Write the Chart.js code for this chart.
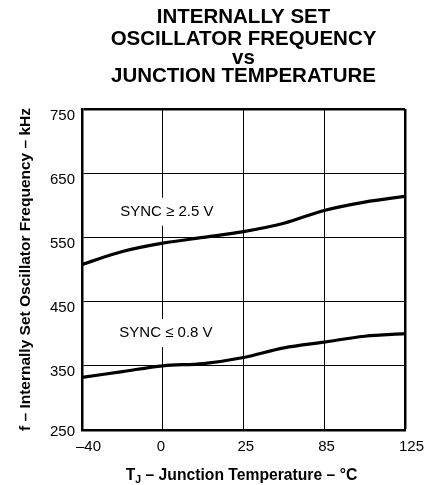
<!DOCTYPE html>
<html>
<head>
<meta charset="utf-8">
<script src="https://cdn.jsdelivr.net/npm/chart.js@4.4.0/dist/chart.umd.min.js"></script>
<style>
  html, body { margin: 0; padding: 0; background: #fff; }
  #wrap { width: 434px; height: 485px; }
</style>
</head>
<body>
<div id="wrap"><canvas id="freqChart"></canvas></div>
<script>
// x axis is drawn with evenly spaced temperature steps, so points sit on index positions
const tempLabels = ['\u201340', '0', '25', '85', '125'];
const xPos = [0, 0.5, 1, 1.5, 2, 2.5, 3, 3.5, 4];
const freqSyncHigh = [508, 528, 541, 550, 559, 572, 592, 605, 614];
const freqSyncLow = [332, 341, 350, 353.5, 363, 378, 387, 396, 400];
const freqTicks = [250, 350, 450, 550, 650, 750];
const curveNames = ['SYNC \u2265 2.5 V', 'SYNC \u2264 0.8 V'];

const titleTop = ['INTERNALLY SET'];
const titleRest = ['OSCILLATOR FREQUENCY', 'vs', 'JUNCTION TEMPERATURE'];
const yTitle = 'f \u2013 Internally Set Oscillator Frequency \u2013 kHz';

const FONT = '"Liberation Sans", Arial, Helvetica, sans-serif';
Chart.defaults.font.family = FONT;
Chart.defaults.color = '#000';

// where the curve names sit (in data units)
const nameAnchors = [{x: 1.05, y: 590}, {x: 1.04, y: 401}];

const curveNamePlugin = {
  id: 'curveNames',
  beforeDatasetsDraw(chart) {
    const {ctx, scales: {x, y}} = chart;
    ctx.save();
    ctx.font = '15px ' + FONT;
    ctx.textAlign = 'center';
    ctx.textBaseline = 'middle';
    curveNames.forEach((txt, i) => {
      const px = x.getPixelForValue(nameAnchors[i].x);
      const py = y.getPixelForValue(nameAnchors[i].y);
      const w = ctx.measureText(txt).width + 12;
      ctx.fillStyle = '#fff';
      ctx.fillRect(px - w / 2, py - 14, w, 28);
      ctx.fillStyle = '#000';
      ctx.fillText(txt, px, py);
    });
    ctx.restore();
  }
};

// x axis title needs a subscript J, so it is drawn here
const xTitlePlugin = {
  id: 'xTitle',
  afterDraw(chart) {
    const {ctx, chartArea} = chart;
    const big = 'bold 15.7px ' + FONT;
    const small = 'bold 10.5px ' + FONT;
    const rest = ' \u2013 Junction Temperature \u2013 \u00B0C';
    ctx.save();
    ctx.fillStyle = '#000';
    ctx.textBaseline = 'alphabetic';
    ctx.textAlign = 'left';
    ctx.font = big;
    const wT = ctx.measureText('T').width;
    const wRest = ctx.measureText(rest).width;
    ctx.font = small;
    const wJ = ctx.measureText('J').width;
    let x0 = (chartArea.left + chartArea.right) / 2 - 2 - (wT + wJ + wRest) / 2;
    const base = chartArea.bottom + 50;
    ctx.font = big;
    ctx.fillText('T', x0, base);
    x0 += wT;
    ctx.font = small;
    ctx.fillText('J', x0, base + 3);
    x0 += wJ;
    ctx.font = big;
    ctx.fillText(rest, x0, base);
    ctx.restore();
  }
};

const ctx = document.getElementById('freqChart').getContext('2d');
const freqChart = new Chart(ctx, {
  type: 'line',
  data: {
    datasets: [
      {
        label: curveNames[0],
        data: xPos.map((x, i) => ({x: x, y: freqSyncHigh[i]})),
        borderColor: '#000',
        borderWidth: 3.2,
        pointRadius: 0,
        cubicInterpolationMode: 'monotone'
      },
      {
        label: curveNames[1],
        data: xPos.map((x, i) => ({x: x, y: freqSyncLow[i]})),
        borderColor: '#000',
        borderWidth: 3.2,
        pointRadius: 0,
        cubicInterpolationMode: 'monotone'
      }
    ]
  },
  options: {
    responsive: true,
    maintainAspectRatio: false,
    animation: false,
    layout: { padding: {left: 0, right: 29, top: 0, bottom: 0} },
    plugins: {
      legend: { display: false },
      tooltip: { enabled: false },
      title: {
        display: true,
        text: titleTop,
        fullSize: false,
        color: '#000',
        font: { size: 20.5, weight: 'bold', lineHeight: '20px' },
        padding: { top: 7, bottom: 0 }
      },
      subtitle: {
        display: true,
        text: titleRest,
        fullSize: false,
        color: '#000',
        font: { size: 20.5, weight: 'bold', lineHeight: '18.2px' },
        padding: { top: 3.6, bottom: 23.8 }
      }
    },
    scales: {
      x: {
        type: 'linear',
        min: 0,
        max: 4,
        afterBuildTicks: (scale) => { scale.ticks = tempLabels.map((t, i) => ({value: i})); },
        afterFit: (scale) => {
          scale.height = 55;
          scale.paddingLeft = 0;
          scale.paddingRight = 0;
        },
        ticks: {
          callback: (v) => tempLabels[v],
          align: 'start',
          labelOffset: -6,
          padding: 8,
          maxRotation: 0,
          autoSkip: false,
          color: '#000',
          font: { size: 15 }
        },
        grid: {
          color: '#000',
          lineWidth: (c) => (c.tick && c.tick.value === 4 ? 2.5 : 1),
          drawTicks: false
        },
        border: { display: true, color: '#000', width: 2.5 }
      },
      y: {
        min: 250,
        max: 750,
        afterBuildTicks: (scale) => { scale.ticks = freqTicks.map(v => ({value: v})); },
        afterFit: (scale) => {
          scale.width = 82;
          scale.paddingTop = 0;
          scale.paddingBottom = 0;
        },
        ticks: {
          // bottom label sits level with the axis, the rest hang just under their lines
          callback: (v) => (v === 250 ? ['250', ''] : String(v)),
          labelOffset: 6.5,
          padding: 7,
          autoSkip: false,
          color: '#000',
          font: (c) => (c.tick && c.tick.value === 250 ? {size: 15, lineHeight: '10px'} : {size: 15})
        },
        grid: {
          color: '#000',
          lineWidth: (c) => (c.tick && c.tick.value === 750 ? 2.5 : 1),
          drawTicks: false
        },
        border: { display: true, color: '#000', width: 2.5 },
        title: {
          display: true,
          text: yTitle,
          color: '#000',
          font: { size: 15.5, weight: 'bold' },
          padding: { top: 16.5, bottom: 0 }
        }
      }
    }
  },
  plugins: [curveNamePlugin, xTitlePlugin]
});
</script>
</body>
</html>
